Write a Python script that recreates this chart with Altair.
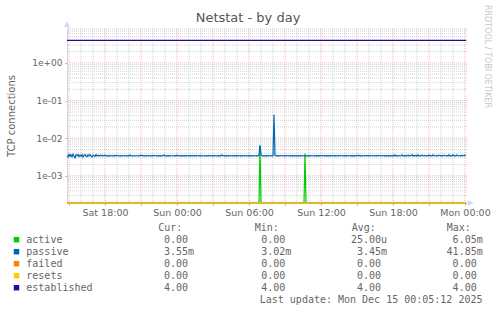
import altair as alt
import pandas as pd
from datetime import datetime, timedelta

TITLE = "Netstat - by day"
Y_TITLE = "TCP connections"
WATERMARK = "RRDTOOL / TOBI OETIKER"
LAST_UPDATE = "Last update: Mon Dec 15 00:05:12 2025"

START = "2025-12-13T14:50:00"
END = "2025-12-15T00:05:00"

# passive connections, 5-minute samples, in units of 1e-5
passive_e5 = [
    341, 318, 372, 330, 365, 322, 378, 335, 302, 362, 340, 370, 325, 356, 333, 368, 319, 350, 372, 338,
    325, 361, 336, 370, 342, 318, 355, 345, 330, 368, 340, 352, 336, 345, 360, 338, 347, 341, 352, 339,
    344, 340, 336, 350, 342, 338, 345, 341, 348, 339, 343, 352, 340, 336, 344, 341, 338, 347, 343, 340,
    338, 345, 341, 360, 343, 339, 344, 340, 337, 346, 342, 340, 339, 348, 343, 355, 341, 338, 344, 341,
    340, 343, 346, 341, 339, 344, 340, 352, 343, 338, 345, 341, 343, 339, 346, 340, 342, 362, 340, 338,
    343, 341, 345, 340, 338, 347, 342, 339, 344, 341, 355, 342, 339, 345, 340, 343, 338, 346, 341, 344,
    340, 342, 345, 339, 343, 341, 350, 338, 344, 340, 346, 342, 339, 343, 341, 338, 345, 342, 340, 344,
    341, 339, 346, 343, 340, 338, 344, 341, 347, 342, 339, 345, 340, 343, 341, 358, 342, 339, 344, 341,
    343, 340, 345, 339, 342, 344, 341, 346, 340, 343, 338, 345, 342, 340, 344, 341, 339, 346, 343, 341,
    342, 340, 345, 339, 343, 341, 338, 346, 342, 340, 344, 341, 350, 660, 372, 342, 339, 345, 341, 343,
    340, 344, 338, 342, 345, 341, 339, 4185, 350, 341, 344, 339, 343, 340, 346, 342, 338, 344, 341, 339,
    345, 342, 340, 343, 339, 346, 341, 344, 340, 342, 338, 345, 341, 343, 339, 344, 342, 340, 346, 341,
    343, 339, 345, 341, 340, 344, 342, 338, 346, 341, 343, 340, 345, 339, 342, 344, 341, 347, 340, 343,
    341, 345, 340, 343, 339, 346, 342, 340, 344, 341, 338, 345, 343, 340, 346, 342, 339, 344, 341, 343,
    340, 344, 342, 339, 346, 341, 343, 340, 345, 338, 342, 356, 340, 344, 341, 339, 346, 342, 340, 343,
    345, 341, 339, 344, 342, 340, 346, 343, 339, 345, 341, 350, 338, 344, 342, 340, 347, 341, 343, 339,
    344, 341, 346, 340, 343, 339, 345, 342, 360, 338, 344, 341, 347, 340, 343, 362, 339, 345, 341, 344,
    340, 358, 336, 347, 342, 365, 338, 345, 340, 352, 336, 362, 341, 344, 338, 356, 342, 339, 348, 341,
    343, 338, 357, 340, 345, 336, 362, 342, 339, 350, 341, 338, 355, 343, 340, 346, 339, 352, 342, 340,
    345, 341, 360, 338, 344, 341, 365, 340, 343, 339, 356, 342, 340, 347, 338, 352, 344, 340, 355, 355,
]

active_times = ["2025-12-13T14:50:00", "2025-12-14T06:50:00", "2025-12-14T06:55:00",
                "2025-12-14T07:00:00", "2025-12-14T10:35:00", "2025-12-14T10:40:00",
                "2025-12-14T10:45:00", "2025-12-15T00:05:00"]
active_vals = [0.0, 0.0, 6.05e-3, 0.0, 0.0, 3.95e-3, 0.0, 0.0]

failed_level = 0.0
resets_level = 0.0
established_level = 4.0

series_names = ["active", "passive", "failed", "resets", "established"]
series_colors = ["#00cc00", "#0066b3", "#ff8000", "#ffcc00", "#330099"]
cur_vals = ["0.00", "3.55m", "0.00", "0.00", "4.00"]
min_vals = ["0.00", "3.02m", "0.00", "0.00", "4.00"]
avg_vals = ["25.00u", "3.45m", "0.00", "0.00", "4.00"]
max_vals = ["6.05m", "41.85m", "0.00", "0.00", "4.00"]
col_headers = ["Cur:", "Min:", "Avg:", "Max:"]

Y_MIN, Y_MAX = 1.9e-4, 8.5
DECADES = [1e-3, 1e-2, 1e-1, 1.0]

FONT = "DejaVu Sans"
MONO = "DejaVu Sans Mono"
TXT = "#666666"
AXISC = "#CFD6F8"

# ---- data frames ----
t0 = datetime.fromisoformat(START)
fmt = "%Y-%m-%dT%H:%M:%S"
df_passive = pd.DataFrame({
    "t": [(t0 + timedelta(minutes=5 * i)).strftime(fmt) for i in range(len(passive_e5))],
    "val": [p / 1e5 for p in passive_e5],
})
df_active = pd.DataFrame({"t": active_times, "val": active_vals})
df_failed = pd.DataFrame({"t": [START, END], "val": [failed_level] * 2})
df_resets = pd.DataFrame({"t": [START, END], "val": [resets_level] * 2})
df_est = pd.DataFrame({"t": [START, END], "val": [established_level] * 2})

hours = [datetime(2025, 12, 13, 15) + timedelta(hours=h) for h in range(34)]
major_h = [h for h in hours if h.hour % 3 == 0]
minor_h = [h for h in hours if h.hour % 3 != 0]
df_vmajor = pd.DataFrame({"t": [h.strftime(fmt) for h in major_h]})
df_vminor = pd.DataFrame({"t": [h.strftime(fmt) for h in minor_h]})
minor_vals = [m * 10.0 ** e for e in range(-4, 1) for m in range(2, 10) if Y_MIN <= m * 10.0 ** e <= Y_MAX]
df_hminor = pd.DataFrame({"v": minor_vals})
df_hmajor = pd.DataFrame({"v": DECADES})


def dt(d):
    return alt.DateTime(year=d.year, month=d.month, date=d.day, hours=d.hour, minutes=d.minute)


x_scale = alt.Scale(domain=[dt(datetime(2025, 12, 13, 14, 50)), dt(datetime(2025, 12, 15, 0, 10))])
y_scale = alt.Scale(type="log", domain=[Y_MIN, Y_MAX], nice=False)

x_axis = alt.Axis(
    title=None, values=[dt(h) for h in major_h], grid=False,
    labelExpr="hours(datum.value) % 6 == 0 ? timeFormat(datum.value, '%a %H:%M') : ''",
    domainColor=AXISC, tickColor="#f09090", tickSize=2, labelFont=FONT, labelFontSize=9.5,
    labelColor=TXT, labelPadding=2, labelOverlap=False, labelFlush=False,
)
y_axis = alt.Axis(
    title=Y_TITLE, values=DECADES, grid=False,
    labelExpr="'1e' + (datum.value >= 1 ? '+' : '-') + '0' + abs(round(log(datum.value) / LN10))",
    domainColor=AXISC, tickColor="#f09090", tickSize=2, labelFont=FONT, labelFontSize=9,
    labelColor=TXT, labelPadding=3, titleFont=FONT, titleFontSize=10, titleFontWeight="normal",
    titleColor=TXT, titleX=-56, titleY=87.5, titleAngle=270, titleAlign="center",
    titleBaseline="middle",
)
x_enc = alt.X("t:T", scale=x_scale, axis=x_axis)
y_enc = alt.Y("v:Q", scale=y_scale, axis=y_axis)

GRID_GRAY = "#d2d2d2"
GRID_RED = "#f5b4b4"

layers = [
    alt.Chart(df_vminor).mark_rule(color=GRID_GRAY, strokeDash=[1, 1], strokeWidth=1).encode(x=x_enc),
    alt.Chart(df_hminor).mark_rule(color=GRID_GRAY, strokeDash=[1, 1], strokeWidth=1).encode(y=y_enc),
    alt.Chart(df_vmajor).mark_rule(color=GRID_RED, strokeDash=[1, 1], strokeWidth=1).encode(x=x_enc),
    alt.Chart(df_hmajor).mark_rule(color=GRID_RED, strokeDash=[1, 1], strokeWidth=1).encode(y=y_enc),
]

for df, col in [(df_active, series_colors[0]), (df_passive, series_colors[1]),
                (df_failed, series_colors[2]), (df_resets, series_colors[3]),
                (df_est, series_colors[4])]:
    layers.append(
        alt.Chart(df).transform_calculate(v=f"max(datum.val, {Y_MIN})")
        .mark_line(color=col, strokeWidth=1.2, interpolate="linear")
        .encode(x=x_enc, y=y_enc)
    )

# axis arrows
df_arr_up = pd.DataFrame({"t": ["2025-12-13T14:50:00"], "v": [Y_MAX]})
df_arr_rt = pd.DataFrame({"t": ["2025-12-15T00:10:00"], "v": [Y_MIN]})
layers.append(alt.Chart(df_arr_up).mark_point(shape="M-2,-0.5L2,-0.5L0,-4.5Z", size=9, filled=True,
                                              color=AXISC, opacity=1).encode(x=x_enc, y=y_enc))
layers.append(alt.Chart(df_arr_rt).mark_point(shape="M0.5,-2L0.5,2L4.5,0Z", size=9, filled=True,
                                              color=AXISC, opacity=1).encode(x=x_enc, y=y_enc))

one = pd.DataFrame({"a": [0]})


def txt(text, x, y, align="left", font=MONO, size=10, color=TXT, baseline="alphabetic", angle=0, lh=12):
    kw = dict(align=align, font=font, fontSize=size, color=color, baseline=baseline, lineHeight=lh)
    if angle:
        kw["angle"] = angle
    return alt.Chart(one).mark_text(**kw).encode(x=alt.value(x), y=alt.value(y), text=alt.value(text))


# title and watermark
layers.append(txt(TITLE, 181, -6, align="center", font=FONT, size=13, color="#555555"))
layers.append(txt(WATERMARK, 420, -23, align="left", font=FONT, size=8, color="#c8c8c8",
                  baseline="middle", angle=90))

# legend table
ROW0 = 215.3
layers.append(txt(series_names, -40.7, ROW0))
for h, hx in zip(col_headers, [91.3, 187.7, 284.7, 379.7]):
    layers.append(txt(h, hx, ROW0 - 12))


def split(vals):
    nums = [v.rstrip("mu") for v in vals]
    units = [v[len(n):] for v, n in zip(vals, nums)]
    return nums, units


for vals, xe in [(cur_vals, 121), (min_vals, 218.3), (avg_vals, 314), (max_vals, 409.7)]:
    nums, units = split(vals)
    layers.append(txt(nums, xe, ROW0, align="right"))
    layers.append(txt([u if u else " " for u in units], xe, ROW0, align="left"))

for i, c in enumerate(series_colors):
    layers.append(alt.Chart(one).mark_square(size=30, color=c, opacity=1)
                  .encode(x=alt.value(-50.5), y=alt.value(ROW0 - 3.6 + 12 * i)))

layers.append(txt(LAST_UPDATE, 415.5, ROW0 + 60, align="right"))

chart = alt.layer(*layers).properties(
    width=400, height=175,
    autosize=alt.AutoSizeParams(type="none"),
    padding={"left": 67, "top": 28, "right": 30, "bottom": 109},
    background="white",
).configure_view(stroke=None)

chart.save("out.html", embed_options={"renderer": "svg", "actions": False})
